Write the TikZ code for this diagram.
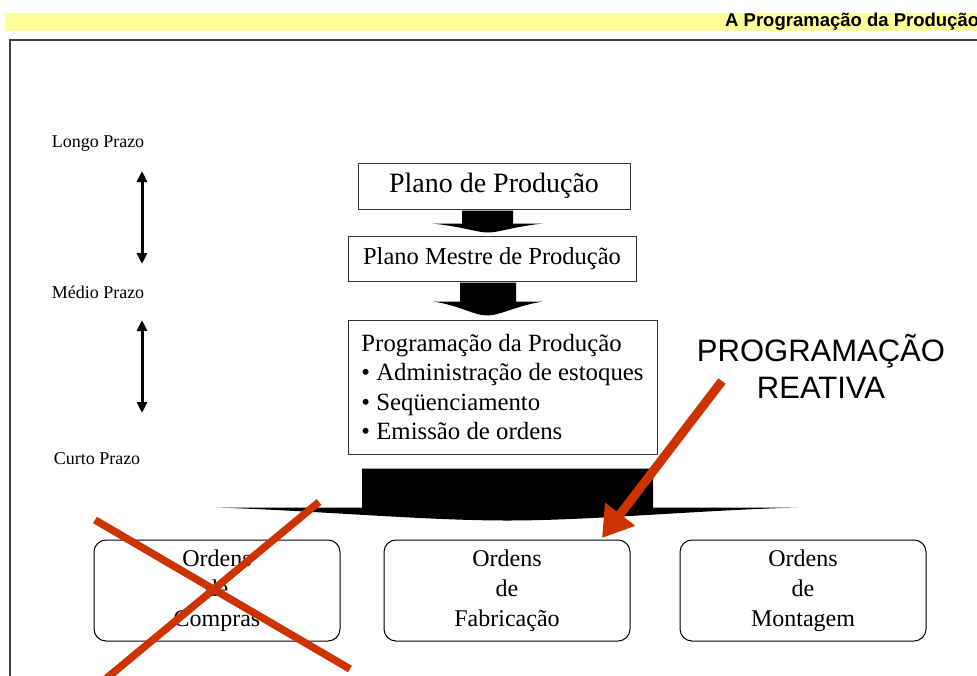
\documentclass[tikz,border=0pt]{standalone}
\usepackage{fontspec}
\setmainfont{Liberation Serif}
\setsansfont{Liberation Sans}
\usetikzlibrary{arrows.meta}
\definecolor{banda}{HTML}{FFFF99}
\definecolor{vermelho}{HTML}{CC3300}

\begin{document}
\begin{tikzpicture}[x=1pt,y=-1pt,
	caixa/.style={shape=rectangle,draw=black!80,line width=1pt,inner sep=0pt},
	ordem/.style={shape=rectangle,rounded corners=12pt,draw=black,line width=1pt,minimum width=246pt,minimum height=101pt,align=center,font=\fontsize{24}{30}\selectfont},
	prazo/.style={font=\fontsize{18}{20}\selectfont},
	risco/.style={draw=vermelho,line width=7.5pt},
	bloco/.style={fill=black}]
	
	\useasboundingbox (0,0) rectangle (977,675);
	\clip (0,0) rectangle (977,675);
	
	\fill[banda] (5,13) rectangle (977,31);
	\node[anchor=west,inner sep=0pt,font=\sffamily\bfseries\fontsize{18.5}{20}\selectfont] (titulo) at (725,22) {A Programação da Produção};
	\draw[draw=black!75,line width=1.3pt] (10,40) rectangle (995,700);
	
	\node[prazo] (longo) at (98,144) {Longo Prazo};
	\node[prazo] (medio) at (98,292) {Médio Prazo};
	\node[prazo] (curto) at (97,459) {Curto Prazo};
	
	\coordinate (l1) at (142,171);
	\coordinate (l2) at (142,264);
	\coordinate (m1) at (142,320);
	\coordinate (m2) at (142,413);
	\draw[{Triangle[width=10pt,length=11pt]}-{Triangle[width=10pt,length=11pt]}, line width=3pt] (l1) -- (l2);
	\draw[{Triangle[width=10pt,length=11pt]}-{Triangle[width=10pt,length=11pt]}, line width=3pt] (m1) -- (m2);
	
	\node[caixa,minimum width=272pt,minimum height=46pt,font=\fontsize{28}{30}\selectfont] (plano) at (494,186) {Plano de Produção};
	\node[caixa,minimum width=288pt,minimum height=45pt,font=\fontsize{24.5}{30}\selectfont] (mestre) at (492,258.5) {Plano Mestre de Produção};
	\node[caixa,minimum width=309pt,minimum height=134pt,align=left,font=\fontsize{24.8}{29.5}\selectfont] (prog) at (502.5,387)
		{Programação da Produção\\ • Administração de estoques\\ • Seqüenciamento\\ • Emissão de ordens};
	
	\fill[bloco,shift={(plano.south)}] (-32,1) -- (19,1) -- (19,14) -- (49,14) .. controls (20,17) and (5,23) .. (-6,23) .. controls (-17,23) and (-32,17) .. (-62,14) -- (-32,14) -- cycle;
	\fill[bloco,shift={(mestre.south)}] (-32,1) -- (24,1) -- (24,20) -- (51,20) .. controls (25,24) and (8,34) .. (-5,34) .. controls (-18,34) and (-32,24) .. (-59,20) -- (-32,20) -- cycle;
	\fill[bloco,shift={(prog.south)}] (-140.5,14) -- (150.5,14) -- (150.5,53) -- (295.5,53) .. controls (190,56) and (90,66) .. (4.5,66) .. controls (-80,66) and (-187,56) .. (-287.5,53) -- (-140.5,53) -- cycle;
	
	\node[ordem] (compras) at (217,590.5) {Ordens\\de\\Compras};
	\node[ordem] (fab) at (507,590.5) {Ordens\\de\\Fabricação};
	\node[ordem] (montagem) at (803,590.5) {Ordens\\de\\Montagem};
	
	\node[align=center,font=\sffamily\fontsize{31}{37}\selectfont] (reativa) at (821,366) {PROGRAMAÇÃO\\REATIVA};
	\coordinate (cauda) at (722,381);
	\coordinate (ponta) at (602,538);
	\draw[-{Triangle[width=36pt,length=30pt]}, draw=vermelho, fill=vermelho, line width=9pt] (cauda) -- (ponta);
	
	\coordinate (x1) at (95,520);
	\coordinate (x2) at (350,669);
	\coordinate (x3) at (319,502);
	\coordinate (x4) at (102,682);
	\path[risco] (x1) edge (x2);
	\path[risco] (x3) edge (x4);
	
\end{tikzpicture}
\end{document}
